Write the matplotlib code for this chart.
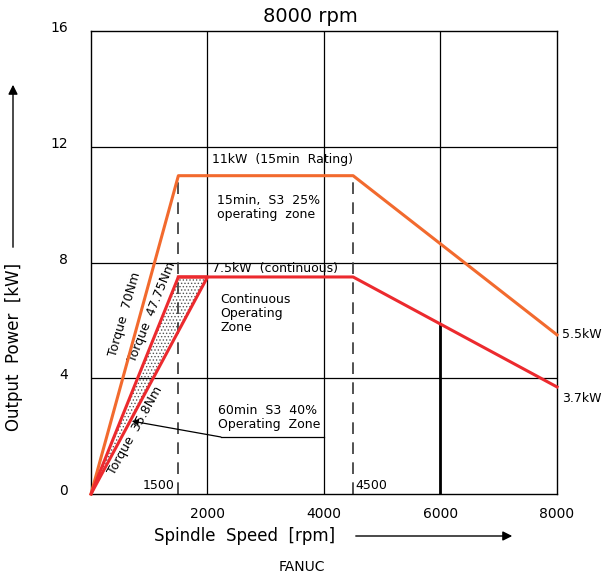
import matplotlib
matplotlib.use("Agg")
import matplotlib.pyplot as plt
from matplotlib.patches import Polygon

# ---- data ----
speed_15min = [0, 1500, 4500, 8000]
power_15min = [0, 11, 11, 5.5]
speed_cont = [0, 1500, 4500, 8000]
power_cont = [0, 7.5, 7.5, 3.7]
speed_60min = [0, 2000, 1500]
power_60min = [0, 7.5, 7.5]
xticks = [2000, 4000, 6000, 8000]
yticks = [0, 4, 8, 12, 16]

orange = "#F26A2E"
red = "#EC2A2E"
font = "DejaVu Sans"
plt.rcParams['font.family'] = [font]
plt.rcParams['hatch.linewidth'] = 0.6

fig = plt.figure(figsize=(6.02, 5.77), dpi=100)
ax = fig.add_axes([91/602, 1-494/577, (557-91)/602, (494-31)/577])
ax.set_xlim(0, 8000)
ax.set_ylim(0, 16)

# grid
for x in [2000, 4000, 6000]:
    ax.plot([x, x], [0, 16], color="black", lw=0.9, zorder=1)
for y in [4, 8, 12]:
    ax.plot([0, 8000], [y, y], color="black", lw=0.9, zorder=1)

# dotted triangle (60min zone)
tri = Polygon(list(zip(speed_60min, power_60min)), closed=True, facecolor="none",
              edgecolor="#555555", hatch=".....", lw=0, zorder=2)
ax.add_patch(tri)

# dashed verticals
ax.plot([1500, 1500], [0, 11], color="#333333", lw=1.2, dashes=(7, 5), zorder=2)
ax.plot([4500, 4500], [0, 11], color="#333333", lw=1.2, dashes=(7, 5), zorder=2)

# thick line at 6000 below continuous curve
p6000 = 7.5 + (6000 - 4500) * (3.7 - 7.5) / (8000 - 4500)
ax.plot([6000, 6000], [0, p6000], color="black", lw=2.0, zorder=2)

# curves
ax.plot(speed_15min, power_15min, color=orange, lw=2.2, zorder=4, clip_on=False)
ax.plot(speed_cont, power_cont, color=red, lw=2.2, zorder=4, clip_on=False)
ax.plot(speed_60min, power_60min, color=red, lw=2.2, zorder=4)

# leader for 60min
ax.annotate("", xy=(700, 2.52), xytext=(2230, 1.97),
            arrowprops=dict(arrowstyle="-|>", color="black", lw=0.9, mutation_scale=9, shrinkA=0, shrinkB=0), zorder=5)
ax.plot([2230, 4000], [1.97, 1.97], color="black", lw=0.9, zorder=5)

# ticks
ax.set_xticks([])
ax.set_yticks([])
for s in ax.spines.values():
    s.set_linewidth(1.0)
for x in xticks:
    ax.text(x, -0.45, str(x), ha="center", va="top", fontsize=10)
for y in yticks:
    ax.text(-390, y + 0.1, str(y), ha="right", va="center", fontsize=10)

fs = 9
ax.text(2070, 11.55, "11kW  (15min  Rating)", fontsize=fs, ha="left", va="center")
ax.text(2170, 10.35, "15min,  S3  25%\noperating  zone", fontsize=fs, ha="left", va="top", linespacing=1.1)
ax.text(2070, 7.8, "7.5kW  (continuous)", fontsize=fs, ha="left", va="center")
ax.text(2220, 6.95, "Continuous\nOperating\nZone", fontsize=fs, ha="left", va="top", linespacing=1.1)
ax.text(2180, 3.1, "60min  S3  40%\nOperating  Zone", fontsize=fs, ha="left", va="top", linespacing=1.1)
ax.text(1440, 0.28, "1500", fontsize=fs, ha="right", va="center")
ax.text(4540, 0.28, "4500", fontsize=fs, ha="left", va="center")
ax.text(8080, 5.5, "5.5kW", fontsize=fs, ha="left", va="center")
ax.text(8090, 3.3, "3.7kW", fontsize=fs, ha="left", va="center")

ax.text(584, 6.2, "Torque  70Nm", fontsize=fs, rotation=74, ha="center", va="center", rotation_mode="anchor")
ax.text(1050, 6.3, "Torque  47.75Nm", fontsize=fs, rotation=68, ha="center", va="center", rotation_mode="anchor")
ax.text(760, 2.2, "Torque  35.8Nm", fontsize=fs, rotation=61, ha="center", va="center", rotation_mode="anchor")

# titles / labels
fig.text(310/602, 1-16/577, "8000 rpm", fontsize=14, ha="center", va="center")
fig.text(245/602, 1-536/577, "Spindle  Speed  [rpm]", fontsize=12, ha="center", va="center")
fig.text(14/602, 1-347/577, "Output  Power  [kW]", fontsize=12, ha="center", va="center", rotation=90)
fig.text(302/602, 1-567/577, "FANUC", fontsize=10, ha="center", va="center")

fig.add_artist(matplotlib.patches.FancyArrowPatch((353/602, 1-536/577), (515/602, 1-536/577),
               transform=fig.transFigure, arrowstyle="-|>", mutation_scale=14, lw=1.0, color="black"))
fig.add_artist(matplotlib.patches.FancyArrowPatch((13/602, 1-250/577), (13/602, 1-82/577),
               transform=fig.transFigure, arrowstyle="-|>", mutation_scale=14, lw=1.0, color="black"))

fig.savefig("out.png", dpi=100)
